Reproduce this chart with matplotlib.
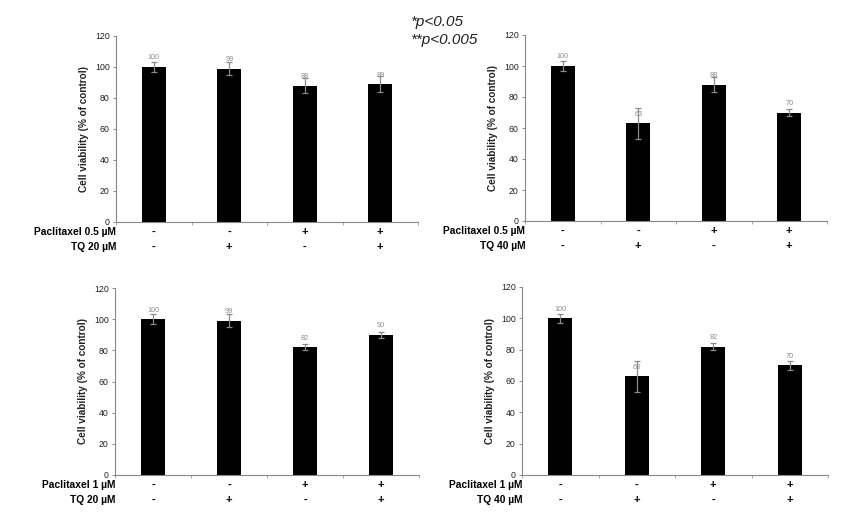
import matplotlib.pyplot as plt
from matplotlib.ticker import FixedLocator

plt.rcParams["font.family"] = ["Liberation Sans", "DejaVu Sans"]

# panel data: viability (% of control) and error (SD)
tl_vals = [100, 99, 88, 89]
tl_err = [3, 4, 5, 5]
tr_vals = [100, 63, 88, 70]
tr_err = [3, 10, 5, 2]
bl_vals = [100, 99, 82, 90]
bl_err = [3, 4, 2, 2]
br_vals = [100, 63, 82, 70]
br_err = [3, 10, 2, 3]

ptx_signs = ["-", "-", "+", "+"]
tq_signs = ["-", "+", "-", "+"]

panels = [
    # values, errors, drug label, tq label, [left, bottom, right, top] in px
    (tl_vals, tl_err, "Paclitaxel 0.5 \u00b5M", "TQ 20 \u00b5M", (116, 222, 418, 36)),
    (tr_vals, tr_err, "Paclitaxel 0.5 \u00b5M", "TQ 40 \u00b5M", (525, 221, 827, 35)),
    (bl_vals, bl_err, "Paclitaxel 1 \u00b5M", "TQ 20 \u00b5M", (115, 475, 419, 288)),
    (br_vals, br_err, "Paclitaxel 1 \u00b5M", "TQ 40 \u00b5M", (522, 475, 828, 287)),
]

W, H = 846, 531
fig = plt.figure(figsize=(W / 100, H / 100), dpi=100)

for vals, errs, drug, tq, (l, b, r, t) in panels:
    ax = fig.add_axes([l / W, 1 - b / H, (r - l) / W, (b - t) / H])
    x = range(len(vals))
    ax.bar(x, vals, width=0.32, color="black", zorder=2)
    ax.errorbar(x, vals, yerr=errs, fmt="none", ecolor="#8a8a8a",
                elinewidth=0.9, capsize=2, capthick=0.9, zorder=3)
    for i, v in enumerate(vals):
        ax.annotate(str(v), (i, v), xytext=(0, 9), textcoords="offset pixels",
                    ha="center", va="center", fontsize=5.2, color="#8c8c8c")
    ax.set_xlim(-0.5, 3.5)
    ax.set_ylim(0, 120)
    ax.set_yticks(range(0, 121, 20))
    ax.tick_params(axis="y", labelsize=6.3, length=2.5, width=0.6,
                   colors="#777777", labelcolor="#222222", pad=2)
    ax.set_xticks([])
    ax.xaxis.set_minor_locator(FixedLocator([-0.5, 0.5, 1.5, 2.5, 3.5]))
    ax.tick_params(axis="x", which="minor", length=2.5, width=0.6,
                   colors="#999999", direction="out")
    for s in ["top", "right"]:
        ax.spines[s].set_visible(False)
    for s in ["left", "bottom"]:
        ax.spines[s].set_color("#888888")
        ax.spines[s].set_linewidth(0.8)
    ax.set_ylabel("Cell viability (% of control)", fontsize=7.2,
                  fontweight="bold", color="#222222", labelpad=4)

    xt = ax.get_xaxis_transform()
    for i in x:
        ax.annotate(ptx_signs[i], (i, 0), xycoords=xt, xytext=(0, -10),
                    textcoords="offset pixels", ha="center", va="center",
                    fontsize=8, fontweight="bold")
        ax.annotate(tq_signs[i], (i, 0), xycoords=xt, xytext=(0, -25),
                    textcoords="offset pixels", ha="center", va="center",
                    fontsize=8, fontweight="bold")
    ax.annotate(drug, (0, 0), xycoords="axes fraction", xytext=(0, -10),
                textcoords="offset pixels", ha="right", va="center",
                fontsize=7.4, fontweight="bold")
    ax.annotate(tq, (0, 0), xycoords="axes fraction", xytext=(0, -25),
                textcoords="offset pixels", ha="right", va="center",
                fontsize=7.4, fontweight="bold")

fig.text(410 / W, 1 - 22 / H, "*p<0.05", fontsize=11, style="italic",
         ha="left", va="center", color="#222222")
fig.text(410 / W, 1 - 40 / H, "**p<0.005", fontsize=11, style="italic",
         ha="left", va="center", color="#222222")

fig.savefig("out.png", dpi=100)
